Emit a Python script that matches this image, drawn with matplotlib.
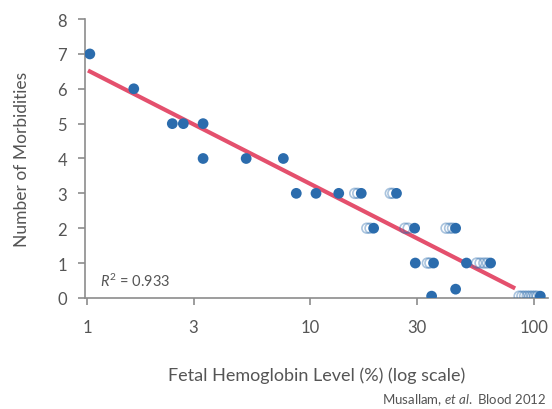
import numpy as np
import matplotlib.pyplot as plt
from matplotlib.ticker import FixedLocator, NullLocator

# data
hbf = [1.03, 1.62, 2.41, 2.7, 3.31, 3.31, 5.16, 7.57, 8.65, 10.6, 13.4, 16.9, 24.3,
       19.2, 29.3, 44.7, 29.5, 35.6, 50.0, 64.1, 34.9, 44.7, 107.0]
morbid = [7, 6, 5, 5, 5, 4, 4, 4, 3, 3, 3, 3, 3,
          2, 2, 2, 1, 1, 1, 1, 0.05, 0.25, 0.05]
# faint overlapping points (left of the solid ones)
ghost_x = [15.8, 16.3, 22.8, 23.4, 17.9, 18.5, 26.5, 27.4, 40.5, 42.0, 43.3,
           33.4, 34.3, 55.5, 57.5, 59.8, 62.0, 86, 88.5, 91, 93.5, 96, 98.5, 101, 103.5]
ghost_y = [3, 3, 3, 3, 2, 2, 2, 2, 2, 2, 2,
           1, 1, 1, 1, 1, 1, 0.05, 0.05, 0.05, 0.05, 0.05, 0.05, 0.05, 0.05]
fit_a, fit_b = 6.54, -3.27   # y = a + b*log10(x)
fit_range = [1.03, 81]
r2 = 0.933
xticks = [1, 3, 10, 30, 100]

blue = '#2b6cad'
red = '#e4506d'
grey = '#8c8c8c'
txt = '#555555'

plt.rcParams['font.family'] = ['Lato', 'DejaVu Sans']
plt.rcParams['mathtext.fontset'] = 'custom'
plt.rcParams['mathtext.rm'] = 'Lato'
plt.rcParams['mathtext.it'] = 'Lato:italic'

fig = plt.figure(figsize=(5.52, 4.10), dpi=100)
ax = fig.add_axes([0.154, 0.271, 0.839, 0.68])

fx = np.linspace(np.log10(fit_range[0]), np.log10(fit_range[1]), 50)
ax.plot(10 ** fx, fit_a + fit_b * fx, color=red, lw=3, zorder=2)

ax.scatter(ghost_x, ghost_y, s=50, facecolor='none', edgecolor=blue, lw=1.2,
           alpha=0.4, zorder=3)
ax.scatter(hbf, morbid, s=60, color=blue, edgecolor='none', zorder=4)

ax.set_xscale('log')
ax.set_xlim(0.98, 116)
ax.set_ylim(0, 8)
ax.xaxis.set_major_locator(FixedLocator(xticks))
ax.xaxis.set_minor_locator(NullLocator())
ax.set_xticklabels([str(t) for t in xticks])
ax.set_yticks(range(0, 9))

for s in ['top', 'right']:
    ax.spines[s].set_visible(False)
for s in ['left', 'bottom']:
    ax.spines[s].set_color(grey)
    ax.spines[s].set_linewidth(1.2)
ax.tick_params(colors=grey, labelcolor=txt, labelsize=12, length=5, width=1.2)
ax.tick_params(axis='x', pad=10)
ax.tick_params(axis='y', pad=8)

ax.set_xlabel('Fetal Hemoglobin Level (%) (log scale)', fontsize=13, color=txt, labelpad=23)
ax.set_ylabel('Number of Morbidities', fontsize=12.5, color=txt, labelpad=20)

ax.text(1.14, 0.5, r'$R^2$ = %.3f' % r2, fontsize=10.5, color=txt, va='center')

fig.text(0.99, 0.025, r'Musallam, $et\ al.$ Blood 2012', ha='right', va='center',
         fontsize=9.5, color=txt)

fig.savefig('out.png', dpi=100)
